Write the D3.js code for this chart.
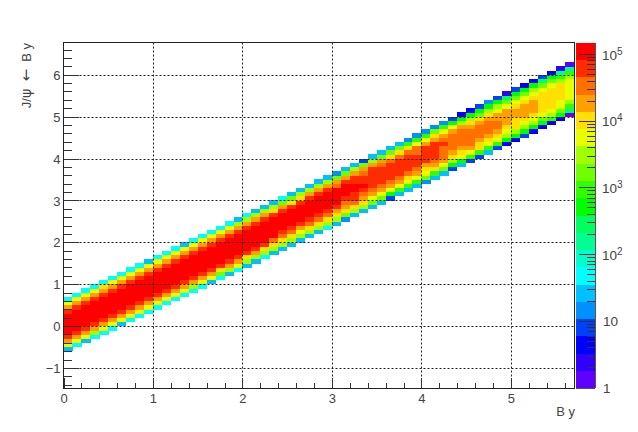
<!DOCTYPE html>
<html><head><meta charset="utf-8">
<script src="https://cdn.jsdelivr.net/npm/d3@7"></script>
<style>html,body{margin:0;background:#fff}svg{display:block}text{font-family:"Liberation Sans",Arial,sans-serif;fill:#444}</style>
</head><body><svg id="c" width="638" height="432"></svg>
<script>
// colour-band index (0..19) of each filled cell, lowest cell first, one row per B y column
const bandsByColumn = [
[5,14,16,18,19,19,19,19,19,18,16,14,6],
[6,14,16,18,19,19,19,19,19,18,16,14,6],
[5,14,16,18,19,19,19,19,19,18,16,14,6],
[6,13,16,18,19,19,19,19,19,18,16,14,6],
[6,14,16,18,19,19,19,19,19,18,16,15,6],
[6,14,16,18,19,19,19,19,19,18,16,14,6],
[5,14,16,18,19,19,19,19,19,18,16,14,6],
[6,14,16,18,19,19,19,19,19,18,16,14,6],
[6,14,16,18,19,19,19,19,19,18,16,14,6],
[6,14,16,18,19,19,19,19,19,18,16,14,5],
[6,14,16,18,19,19,19,19,19,18,16,14,6],
[6,14,16,18,19,19,19,19,19,18,16,14,6],
[6,14,16,18,19,19,19,19,19,18,16,14,6],
[6,14,16,18,19,19,19,19,19,18,16,14,5],
[6,13,16,18,19,19,19,19,19,18,16,14,6],
[6,14,16,18,19,19,19,19,19,18,16,14,6],
[5,14,16,18,19,19,19,19,19,18,16,14,6],
[6,12,15,18,19,19,19,19,19,18,16,14,6],
[5,13,16,18,19,19,19,19,19,18,16,14,6],
[6,14,16,18,19,19,19,19,19,18,16,13,5],
[5,13,15,18,19,19,19,19,19,18,16,13,6],
[5,13,16,18,19,19,19,19,19,18,16,13,5],
[6,13,15,18,19,19,19,19,19,18,16,13,5],
[5,13,15,17,19,19,19,19,19,18,15,13,5],
[5,13,15,17,18,19,19,19,19,18,16,12,6],
[5,13,15,17,18,19,19,19,19,18,15,12,5],
[5,13,14,16,18,19,19,19,19,18,15,13,5],
[5,13,15,17,18,19,19,19,19,18,16,13,5],
[5,13,15,17,18,19,19,19,19,18,16,13,5],
[6,13,15,17,18,19,19,19,19,18,16,13,5],
[5,13,15,16,18,19,19,19,19,17,16,12,4],
[4,12,15,16,17,18,19,19,19,18,16,12,5],
[5,13,15,17,18,18,19,19,18,18,16,13,5],
[5,13,15,16,17,18,19,18,18,17,16,12,3],
[5,12,14,16,17,18,18,18,18,18,16,13,5],
[5,12,14,16,17,18,18,18,18,17,16,12,5],
[3,10,14,16,17,18,18,18,18,17,15,12,5],
[5,11,14,16,17,18,18,18,18,17,15,12,5],
[5,11,14,15,17,18,18,18,18,17,15,11,4],
[5,11,14,16,17,18,18,18,17,17,14,11,4],
[4,12,14,15,16,18,18,18,18,16,14,11,4],
[5,11,15,16,17,18,18,18,18,16,15,12,4],
[5,12,14,16,17,17,17,18,17,16,14,11,4],
[3,10,13,15,16,17,17,17,17,16,14,10,3],
[5,10,14,15,16,17,17,17,17,16,13,10,2],
[3,11,14,16,17,17,17,17,16,15,13,10,2],
[3,11,15,15,16,17,17,17,16,15,12,10,3],
[5,11,14,15,16,17,17,17,16,15,13,10,4],
[3,11,14,15,16,17,17,16,16,14,13,10,3],
[2,10,13,14,15,16,16,16,16,14,12,9,1],
[2,10,13,15,15,15,16,16,15,14,12,10,3],
[3,10,13,14,15,16,16,16,15,14,12,10,2],
[2,10,13,14,15,16,16,16,15,14,13,10,2],
[2,10,12,14,15,15,15,15,15,14,12,9,3],
[2,11,13,14,15,15,15,15,15,14,12,10,2],
[2,10,12,14,14,15,15,15,15,13,11,8,1],
[0,9,11,13,14,14,14,14,14,13,11,8,0]
];
const firstBinCentre0 = -0.55;      // centre of the lowest filled cell in the first column
const palette = ["#6000ff","#3000ff","#0000ff","#0040ff","#0090ff","#00c0ff","#00ffff","#00ffcc","#00ff90","#00ff60",
                 "#00ff00","#30ff00","#70ff00","#a0ff00","#e8ff00","#ffe000","#ffa000","#ff7000","#ff2c00","#ff0000"];
const xTicksMajor = [0,1,2,3,4,5];
const xTicksMinor = [0.2,0.4,0.6,0.8,1.2,1.4,1.6,1.8,2.2,2.4,2.6,2.8,3.2,3.4,3.6,3.8,4.2,4.4,4.6,4.8,5.2,5.4,5.6];
const yTicksMajor = [-1,0,1,2,3,4,5,6];
const yTicksMinor = [-1.4,-1.2,-0.8,-0.6,-0.4,-0.2,0.2,0.4,0.6,0.8,1.2,1.4,1.6,1.8,2.2,2.4,2.6,2.8,3.2,3.4,3.6,3.8,4.2,4.4,4.6,4.8,5.2,5.4,5.6,5.8,6.2,6.4,6.6];
const zDecades = [1,10,100,1000,10000,100000];
const zMinor = [2,3,4,5,6,7,8,9];
const xTitle = "B y";
const yTitleParts = ["J/","\u03c8","\u00a0\u00a0","\u2190","\u00a0\u00a0B y"];

const L=63.5,R=574.5,T=42.5,B=388;
const barL=575.5,barR=595;
const x=d3.scaleLinear().domain([0,5.7]).range([L,R-1]);
const y=d3.scaleLinear().domain([-1.48,6.77]).range([B,T]);
const zMax=Math.pow(10,5.18);
const z=d3.scaleLog().domain([1,zMax]).range([B,T]);
const band=d3.scaleQuantize().domain([0,20]).range(palette);

const svg=d3.select("#c");
const cells=svg.append("g").attr("shape-rendering","crispEdges");
bandsByColumn.forEach((col,i)=>{
  cells.selectAll(null).data(col).enter().append("rect")
    .attr("x",x(i*0.1)).attr("width",x((i+1)*0.1)-x(i*0.1)+0.3)
    .attr("y",(d,k)=>y(firstBinCentre0+0.05+(i+k)*0.1))
    .attr("height",y(0)-y(0.1)+0.3)
    .attr("fill",d=>band(d+0.5));
});

// grid
const grid=svg.append("g").attr("fill","none").attr("stroke","#222").attr("stroke-dasharray","2 2");
grid.selectAll(null).data(xTicksMajor.slice(1)).enter().append("line")
  .attr("x1",d=>Math.round(x(d))+.5).attr("x2",d=>Math.round(x(d))+.5).attr("y1",T).attr("y2",B);
grid.selectAll(null).data(yTicksMajor).enter().append("line")
  .attr("y1",d=>Math.round(y(d))+.5).attr("y2",d=>Math.round(y(d))+.5).attr("x1",L).attr("x2",R);

// axes
const style=g=>{g.select(".domain").remove();g.selectAll("line").attr("stroke","#333").attr("shape-rendering","crispEdges");};
svg.append("g").attr("transform",`translate(0,${B})`)
  .call(d3.axisBottom(x).tickValues(xTicksMajor).tickSize(-10).tickPadding(0).tickFormat(d3.format("d")))
  .call(style).call(g=>g.selectAll("text").attr("y",15).attr("dy",0).attr("font-size",13).attr("font-family",null));
svg.append("g").attr("transform",`translate(0,${B})`)
  .call(d3.axisBottom(x).tickValues(xTicksMinor).tickSize(-5).tickFormat(""))
  .call(style);
svg.append("g").attr("transform",`translate(${L},0)`)
  .call(d3.axisLeft(y).tickValues(yTicksMajor).tickSize(-15).tickPadding(0).tickFormat(d3.format("d")))
  .call(style).call(g=>g.selectAll("text").attr("x",-3).attr("dy","0.36em").attr("font-size",13).attr("font-family",null));
svg.append("g").attr("transform",`translate(${L},0)`)
  .call(d3.axisLeft(y).tickValues(yTicksMinor).tickSize(-8).tickFormat(""))
  .call(style);
svg.append("rect").attr("x",L).attr("y",T).attr("width",R-L).attr("height",B-T)
  .attr("fill","none").attr("stroke","#222").attr("shape-rendering","crispEdges");

// colour bar
const bar=svg.append("g").attr("shape-rendering","crispEdges");
bar.selectAll("rect").data(palette).enter().append("rect")
  .attr("x",barL+.5).attr("width",barR-barL)
  .attr("y",(d,i)=>B-(i+1)*(B-T)/20).attr("height",(B-T)/20+.3)
  .attr("fill",d=>d);
const minorVals=zDecades.slice(0,5).flatMap(d=>zMinor.map(m=>d*m)).filter(v=>v<zMax);
bar.selectAll(null).data(minorVals).enter().append("line")
  .attr("x1",barR).attr("x2",barR-8).attr("y1",d=>z(d)).attr("y2",d=>z(d)).attr("stroke","#333");
bar.selectAll(null).data(zDecades.slice(1)).enter().append("line")
  .attr("x1",barR).attr("x2",barR-16).attr("y1",d=>z(d)).attr("y2",d=>z(d)).attr("stroke","#333");
bar.append("line").attr("x1",barR+.5).attr("x2",barR+.5).attr("y1",T).attr("y2",B).attr("stroke","#555");
bar.append("line").attr("x1",barL).attr("x2",barR).attr("y1",B+.5).attr("y2",B+.5).attr("stroke","#555");

const zl=svg.append("g").attr("font-size",13.5);
zDecades.forEach(d=>{
  const e=Math.round(Math.log10(d));
  const t=zl.append("text").attr("x",e===0?603:e===1?603:602).attr("y",z(d)+5);
  if(e===0) t.text("1");
  else if(e===1) t.text("10");
  else { t.append("tspan").text("10");
         t.append("tspan").attr("dy",-5).attr("font-size",10).text(e); }
});

// titles
svg.append("text").attr("x",575).attr("y",416).attr("text-anchor","end").attr("font-size",13).text(xTitle);
const yt=svg.append("text").attr("transform","translate(31,43) rotate(-90)").attr("text-anchor","end").attr("font-size",13);
yt.selectAll("tspan").data(yTitleParts).enter().append("tspan")
  .attr("font-family",(d,i)=>(i===1||i===3)?"DejaVu Sans":null)
  .attr("font-size",(d,i)=>i===3?15:i===1?14:null)
  .text(d=>d);
</script></body></html>
